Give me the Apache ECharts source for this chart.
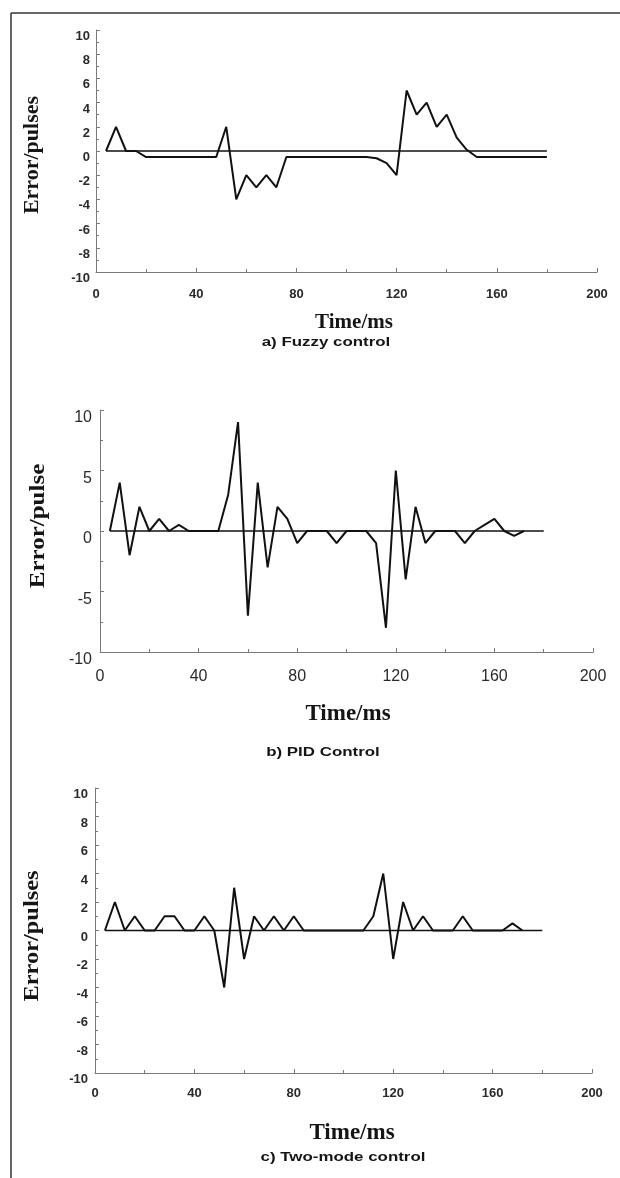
<!DOCTYPE html>
<html><head><meta charset="utf-8">
<script src="https://cdn.jsdelivr.net/npm/echarts@6/dist/echarts.min.js"></script>
<style>html,body{margin:0;padding:0;background:#fff}#c{width:620px;height:1178px}</style>
</head><body><div id="c"></div><script>
// ---- data ----
const xMin = 0, xMax = 200;
const refTime = [4, 180];
const refValue = [0, 0];

const fuzzyTime  = [4, 8, 12, 16, 20, 48, 52, 56, 60, 64, 68, 72, 76, 108, 112, 116, 120, 124, 128, 132, 136, 140, 144, 148, 152, 180];
const fuzzyError = [0, 2, 0, 0, -0.5, -0.5, 2, -4, -2, -3, -2, -3, -0.5, -0.5, -0.6, -1, -2, 5, 3, 4, 2, 3, 1.1, 0.1, -0.5, -0.5];

const pidTime  = [4, 8, 12, 16, 20, 24, 28, 32, 36, 48, 52, 56, 60, 64, 68, 72, 76, 80, 84, 92, 96, 100, 108, 112, 116, 120, 124, 128, 132, 136, 144, 148, 152, 156, 160, 164, 168, 172];
const pidError = [0, 4, -2, 2, 0, 1, 0, 0.5, 0, 0, 3, 9, -7, 4, -3, 2, 1, -1, 0, 0, -1, 0, 0, -1, -8, 5, -4, 2, -1, 0, 0, -1, 0, 0.5, 1, 0, -0.4, 0];

const twoTime  = [4, 8, 12, 16, 20, 24, 28, 32, 36, 40, 44, 48, 52, 56, 60, 64, 68, 72, 76, 80, 84, 108, 112, 116, 120, 124, 128, 132, 136, 144, 148, 152, 164, 168, 172];
const twoError = [0, 2, 0, 1, 0, 0, 1, 1, 0, 0, 1, 0, -4, 3, -2, 1, 0, 1, 0, 1, 0, 0, 1, 4, -2, 2, 0, 1, 0, 0, 1, 0, 0, 0.5, 0];

const xAxisTitle = 'Time/ms';
const yTitles = ['Error/pulses', 'Error/pulse', 'Error/pulses'];
const captions = ['a) Fuzzy control', 'b) PID Control', 'c) Two-mode control'];

// ---- helpers ----
const zip = (t, v) => t.map((x, i) => [x, v[i]]);
const axisGray = '#7a7a7a';
const sans = '"Liberation Sans", Arial, sans-serif';
const serif = '"Liberation Serif", "Times New Roman", serif';

function xAxis(gi, fontSize, weight, margin) {
  return {
    type: 'value', gridIndex: gi, min: xMin, max: xMax, interval: 40,
    axisLine: { onZero: false, lineStyle: { color: axisGray, width: 1 } },
    axisTick: { inside: true, length: 4, lineStyle: { color: axisGray } },
    minorTick: { show: true, splitNumber: 2, length: 3, lineStyle: { color: axisGray } },
    splitLine: { show: false },
    axisLabel: { fontSize, fontWeight: weight, fontFamily: sans, color: '#2a2a2a', margin }
  };
}
function yAxis(gi, interval, fontSize, weight, margin) {
  return {
    type: 'value', gridIndex: gi, min: -10, max: 10, interval,
    axisLine: { show: true, onZero: false, lineStyle: { color: axisGray, width: 1 } },
    axisTick: { show: true, inside: true, length: 4, lineStyle: { color: axisGray } },
    minorTick: { show: true, splitNumber: 2, length: 3, lineStyle: { color: axisGray } },
    splitLine: { show: false },
    axisLabel: { fontSize, fontWeight: weight, fontFamily: sans, color: '#2a2a2a', margin,
                 verticalAlign: 'top' }
  };
}
function lineSeries(gi, data, width) {
  return {
    type: 'line', xAxisIndex: gi, yAxisIndex: gi, data, symbol: 'none', silent: true,
    lineStyle: { color: '#111', width }, animation: false
  };
}
function txt(x, y, text, font, sx, rot) {
  return {
    type: 'text', x, y, rotation: rot || 0, scaleX: sx || 1, silent: true,
    style: { text, font, fill: '#151515', align: 'center', verticalAlign: 'middle',
             textAlign: 'center', textVerticalAlign: 'middle' }
  };
}

const chart = echarts.init(document.getElementById('c'), null, { renderer: 'canvas' });
chart.setOption({
  animation: false,
  backgroundColor: '#fff',
  grid: [
    { left: 96, top: 30, width: 501, height: 242 },
    { left: 100, top: 410, width: 493, height: 242 },
    { left: 95, top: 788, width: 497, height: 285 }
  ],
  xAxis: [xAxis(0, 13, 'bold', 16), xAxis(1, 16, 'normal', 17), xAxis(2, 13, 'bold', 14)],
  yAxis: [yAxis(0, 2, 13, 'bold', 6), yAxis(1, 5, 16, 'normal', 8), yAxis(2, 2, 13, 'bold', 7)],
  series: [
    lineSeries(0, zip(refTime, refValue), 1.5),
    lineSeries(0, zip(fuzzyTime, fuzzyError), 2),
    lineSeries(1, zip(refTime, refValue), 1.5),
    lineSeries(1, zip(pidTime, pidError), 2),
    lineSeries(2, zip(refTime, refValue), 1.5),
    lineSeries(2, zip(twoTime, twoError), 2)
  ],
  graphic: [
    { type: 'line', silent: true, shape: { x1: 11, y1: 13, x2: 620, y2: 13 }, style: { stroke: '#333', lineWidth: 1.5 } },
    { type: 'line', silent: true, shape: { x1: 11, y1: 13, x2: 11, y2: 1178 }, style: { stroke: '#333', lineWidth: 1.5 } },
    txt(33, 155, yTitles[0], 'bold 20px ' + serif, 1.1, Math.PI / 2),
    txt(39, 526, yTitles[1], 'bold 20px ' + serif, 1.25, Math.PI / 2),
    txt(33, 936, yTitles[2], 'bold 20px ' + serif, 1.22, Math.PI / 2),
    txt(354, 323, xAxisTitle, 'bold 21px ' + serif, 1),
    txt(348, 714, xAxisTitle, 'bold 23px ' + serif, 1),
    txt(352, 1133, xAxisTitle, 'bold 23px ' + serif, 1),
    txt(326, 342, captions[0], 'bold 13px ' + sans, 1.3),
    txt(323, 752, captions[1], 'bold 13px ' + sans, 1.3),
    txt(343, 1157, captions[2], 'bold 13px ' + sans, 1.3)
  ]
});
</script></body></html>
